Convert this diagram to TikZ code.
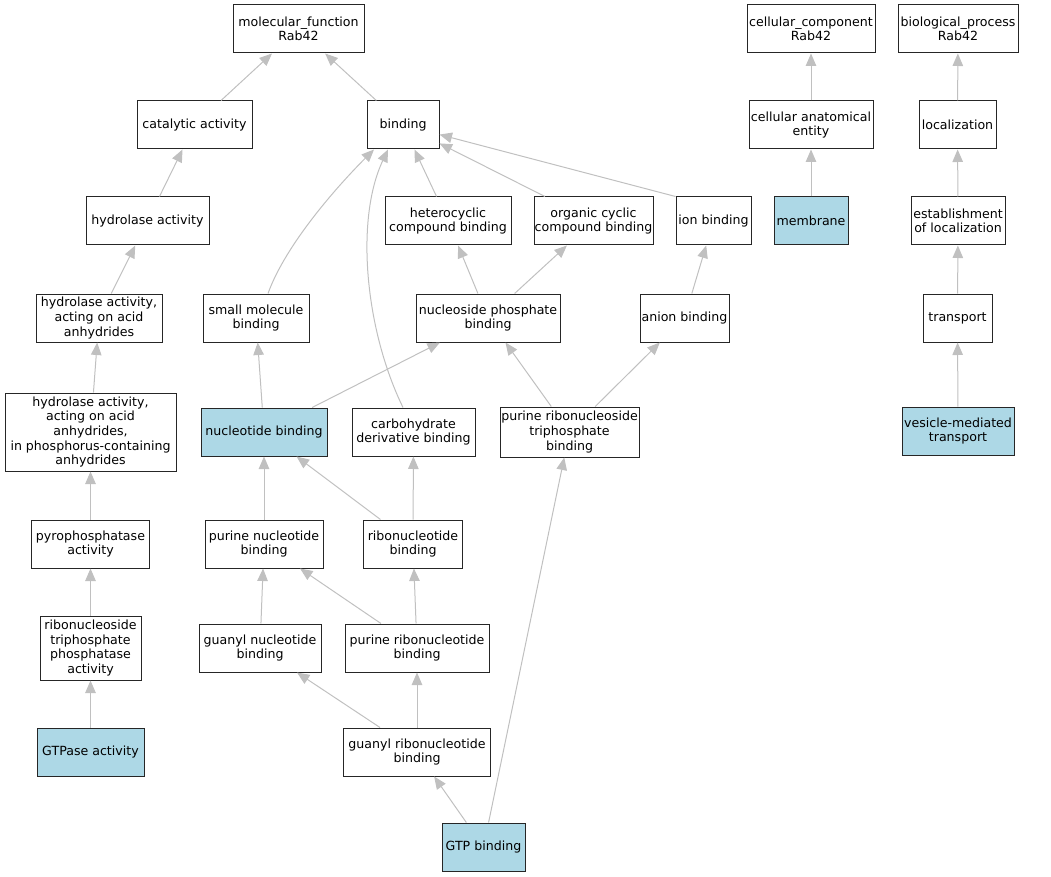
\documentclass[tikz,border=0pt]{standalone}
\usepackage{fontspec}
\setsansfont{DejaVu Sans}
\usetikzlibrary{arrows.meta,positioning}
\definecolor{annotblue}{HTML}{ADD8E6}
\definecolor{edgegray}{HTML}{C0C0C0}

\begin{document}
\begin{tikzpicture}[
  x=1pt, y=-1pt,
  goterm/.style={rectangle, draw=black!85, line width=1pt, fill=white, minimum width=#1, minimum height=48pt, inner xsep=0.5pt, inner ysep=1.5pt, align=center, font=\sffamily\fontsize{12.6}{14.6}\selectfont},
  goterm/.default=72pt,
  annot/.style={goterm=#1, fill=annotblue},
  annot/.default=72pt,
  isa/.style={draw=edgegray, line width=1pt, -{Triangle[length=12.5pt,width=10.5pt]}}
]
\useasboundingbox (0,0) rectangle (1051,877);

\node[goterm=131pt] (mf) at (298.5,29) {molecular\_function\\Rab42};
\node[goterm=128pt] (cc) at (811,29) {cellular\_component\\Rab42};
\node[goterm=120pt] (bp) at (958,29) {biological\_process\\Rab42};

\node[goterm=115pt] (catalytic) at (194.5,125) {catalytic activity};
\node[goterm=72pt] (binding) at (403,125) {binding};
\node[goterm=124pt] (cae) at (811,125) {cellular anatomical\\entity};
\node[goterm=77pt] (localization) at (957.5,125) {localization};

\node[goterm=123pt] (hydrolase) at (147.5,221) {hydrolase activity};
\node[goterm=126pt] (heterocyclic) at (448,221) {heterocyclic\\compound binding};
\node[goterm=119pt] (organic) at (593.5,221) {organic cyclic\\compound binding};
\node[goterm=75pt] (ion) at (713.5,221) {ion binding};
\node[annot=74pt] (membrane) at (811,221) {membrane};
\node[goterm=94pt] (establishment) at (958,221) {establishment\\of localization};

\node[goterm=126pt] (hydacid) at (99,318) {hydrolase activity,\\acting on acid\\anhydrides};
\node[goterm=106pt] (smallmol) at (256,318) {small molecule\\binding};
\node[goterm=144pt] (nucphos) at (488,318) {nucleoside phosphate\\binding};
\node[goterm=89pt] (anion) at (684.5,318) {anion binding};
\node[goterm=69pt] (transport) at (957.5,318) {transport};

\node[goterm=171pt, minimum height=78pt] (hydphos) at (90.5,432) {hydrolase activity,\\acting on acid\\anhydrides,\\in phosphorus-containing\\anhydrides};
\node[annot=126pt] (nucleotide) at (264,432) {nucleotide binding};
\node[goterm=123pt] (carbo) at (413.5,432) {carbohydrate\\derivative binding};
\node[goterm=139pt, minimum height=50pt] (purinerntp) at (569.5,432) {purine ribonucleoside\\triphosphate\\binding};
\node[annot=112pt] (vesicle) at (958,431) {vesicle-mediated\\transport};

\node[goterm=118pt] (pyro) at (90.5,544) {pyrophosphatase\\activity};
\node[goterm=118pt] (purinenuc) at (264,544) {purine nucleotide\\binding};
\node[goterm=99pt] (ribonuc) at (413,544) {ribonucleotide\\binding};

\node[goterm=101pt, minimum height=64pt] (rntpase) at (90.5,648) {ribonucleoside\\triphosphate\\phosphatase\\activity};
\node[goterm=122pt] (guanylnuc) at (260,648) {guanyl nucleotide\\binding};
\node[goterm=144pt] (purineribo) at (417,648) {purine ribonucleotide\\binding};

\node[annot=107pt] (gtpase) at (90.5,752) {GTPase activity};
\node[goterm=147pt] (guanylribo) at (417,752) {guanyl ribonucleotide\\binding};

\node[annot=83pt] (gtp) at (483.5,847) {GTP binding};

% molecular function
\draw[isa] (catalytic) -- (mf);
\draw[isa] (binding) -- (mf);
\draw[isa] (hydrolase) -- (catalytic);
\draw[isa] (hydacid) -- (hydrolase);
\draw[isa] (hydphos) -- (hydacid);
\draw[isa] (pyro) -- (hydphos);
\draw[isa] (rntpase) -- (pyro);
\draw[isa] (gtpase) -- (rntpase);
\draw[isa] ([xshift=12pt]smallmol.north) .. controls +(18,-50) and +(-35,35) .. ([xshift=-29pt]binding.south);
\draw[isa] ([xshift=-10.5pt]carbo.north) .. controls +(-38,-78) and +(-33,70) .. ([xshift=-15pt]binding.south);
\draw[isa] (heterocyclic) -- (binding);
\draw[isa] (organic) -- (binding);
\draw[isa] (ion.north west) -- (binding);
\draw[isa] (nucphos) -- (heterocyclic);
\draw[isa] (nucphos) -- (organic);
\draw[isa] (anion) -- (ion);
\draw[isa] (nucleotide) -- (smallmol);
\draw[isa] (nucleotide) -- (nucphos);
\draw[isa] (purinerntp) -- (nucphos);
\draw[isa] (purinerntp) -- (anion);
\draw[isa] (purinenuc) -- (nucleotide);
\draw[isa] (ribonuc) -- (nucleotide);
\draw[isa] (ribonuc) -- (carbo);
\draw[isa] (guanylnuc) -- (purinenuc);
\draw[isa] (purineribo) -- (purinenuc);
\draw[isa] (purineribo) -- (ribonuc);
\draw[isa] (guanylribo) -- (guanylnuc);
\draw[isa] (guanylribo) -- (purineribo);
\draw[isa] (gtp) -- (guanylribo);
\draw[isa] (gtp) -- (purinerntp);

% cellular component
\draw[isa] (cae) -- (cc);
\draw[isa] (membrane) -- (cae);

% biological process
\draw[isa] (localization) -- (bp);
\draw[isa] (establishment) -- (localization);
\draw[isa] (transport) -- (establishment);
\draw[isa] (vesicle) -- (transport);
\end{tikzpicture}
\end{document}
